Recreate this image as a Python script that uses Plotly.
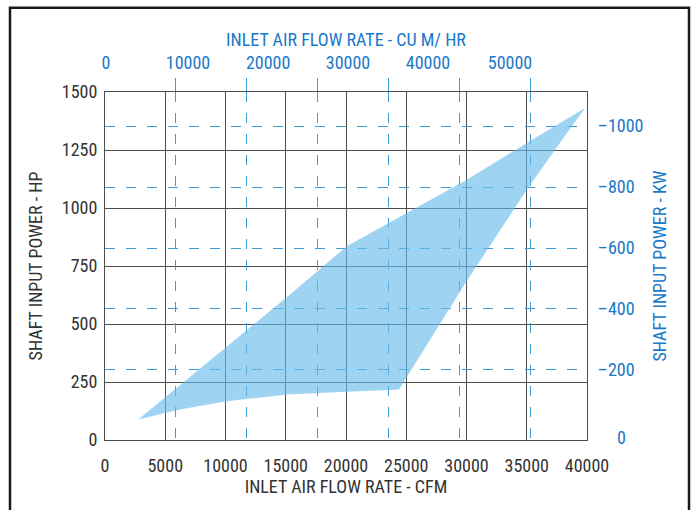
import plotly.graph_objects as go

# ---- data ----
# Operating envelope: CFM vs HP, traced around the outline
upper_cfm = [2760, 10100, 15080, 20060, 25040, 30020, 35000, 39840]
upper_hp = [88, 402, 615, 835, 979, 1122, 1280, 1431]
right_cfm = [38040, 35000, 29740, 24400]
right_hp = [1302, 1079, 663, 218]
lower_cfm = [20060, 15080, 10100, 6224, 2760]
lower_hp = [208, 196, 167, 131, 88]

cfm_ticks = [0, 5000, 10000, 15000, 20000, 25000, 30000, 35000, 40000]
hp_ticks = [0, 250, 500, 750, 1000, 1250, 1500]
cum_grid = [10000, 20000, 30000, 40000, 50000, 60000]
cum_label_pos = [150, 11700, 23000, 34260, 45540, 57100]
cum_labels = ["0", "10000", "20000", "30000", "40000", "50000"]
kw_ticks = [200, 400, 600, 800, 1000]
kw_labels = ["\u2013200", "\u2013400", "\u2013600", "\u2013800", "\u20131000"]

CFM_MAX = 40000
CUM_MAX = CFM_MAX / 0.5886
KW_RANGE = [-30, 1112]

FONT = "Liberation Sans Narrow, Roboto Condensed, Arial Narrow, Liberation Sans, sans-serif"
DARK = "#333333"
BLUE = "#1a78c8"
DASH = "#3d9dd9"
GRID = "#4d4d4d"
FS = 18

xs = upper_cfm + right_cfm + lower_cfm
ys = upper_hp + right_hp + lower_hp

fig = go.Figure()
fig.add_trace(go.Scatter(
    x=xs, y=ys, fill="toself", mode="lines",
    line=dict(width=0), fillcolor="rgba(105,186,234,0.64)",
    hoverinfo="skip", showlegend=False,
))
fig.add_trace(go.Scatter(x=[0], y=[0], xaxis="x2", yaxis="y2", mode="markers",
                         marker=dict(opacity=0), showlegend=False, hoverinfo="skip"))
fig.add_trace(go.Scatter(x=[0], y=[0], xaxis="x3", yaxis="y", mode="markers",
                         marker=dict(opacity=0), showlegend=False, hoverinfo="skip"))

fig.update_layout(
    width=696, height=510,
    margin=dict(l=105, r=109, t=92, b=70, autoexpand=False),
    paper_bgcolor="white", plot_bgcolor="white",
    font=dict(family=FONT, size=FS, color=DARK),
    showlegend=False,
    xaxis=dict(
        range=[0, CFM_MAX], tickvals=cfm_ticks, tickformat="d", automargin=False,
        showgrid=True, gridcolor=GRID, gridwidth=1,
        zeroline=False, showline=True, linecolor=GRID, linewidth=1, mirror=True,
        ticks="outside", ticklen=9, tickcolor="rgba(0,0,0,0)",
        tickfont=dict(size=FS, color=DARK),
        title=dict(text="INLET AIR FLOW RATE - CFM", font=dict(size=FS, color=DARK), standoff=2),
    ),
    yaxis=dict(
        range=[0, 1500], tickvals=hp_ticks, tickformat="d", automargin=False,
        showgrid=True, gridcolor=GRID, gridwidth=1,
        zeroline=False, showline=True, linecolor=GRID, linewidth=1, mirror=True,
        ticks="outside", ticklen=3, tickcolor="rgba(0,0,0,0)",
        tickfont=dict(size=FS, color=DARK),
        title=dict(text="SHAFT INPUT POWER - HP", font=dict(size=FS, color=DARK), standoff=14),
    ),
    xaxis2=dict(
        overlaying="x", side="top", range=[0, CUM_MAX], tickvals=cum_grid, automargin=False,
        showticklabels=False, showgrid=True, gridcolor=DASH, gridwidth=1.2,
        griddash="10px,11px", zeroline=False, ticks="outside", ticklen=13,
        tickcolor=DASH, tickwidth=1.2,
    ),
    xaxis3=dict(
        overlaying="x", side="top", range=[0, CUM_MAX], tickvals=cum_label_pos,
        ticktext=cum_labels, showgrid=False, zeroline=False, automargin=False,
        ticks="outside", ticklen=15, tickcolor="rgba(0,0,0,0)",
        tickfont=dict(size=FS, color=BLUE),
        title=dict(text="INLET AIR FLOW RATE - CU M/ HR", font=dict(size=FS, color=BLUE), standoff=0),
    ),
    yaxis2=dict(
        overlaying="y", side="right", range=KW_RANGE, tickvals=kw_ticks, ticktext=kw_labels,
        automargin=False,
        showgrid=True, gridcolor=DASH, gridwidth=1.2, griddash="10px,11px",
        zeroline=False, ticks="outside", ticklen=6, tickcolor="rgba(0,0,0,0)",
        tickfont=dict(size=FS, color=BLUE),
        title=dict(text="SHAFT INPUT POWER - KW", font=dict(size=FS, color=BLUE), standoff=10),
    ),
)

fig.add_annotation(text="0", xref="paper", yref="paper", x=1.0, y=0.0,
                   xanchor="left", yanchor="middle", xshift=28, yshift=3,
                   showarrow=False, font=dict(size=FS, color=BLUE, family=FONT))

# outer frame
fig.add_shape(type="rect", xref="paper", yref="paper",
              x0=(10 - 105) / 482, x1=(689 - 105) / 482,
              y0=(440.5 - 515) / 348.2, y1=(440.5 - 8) / 348.2,
              line=dict(color="#1a1a1a", width=2.5), fillcolor="rgba(0,0,0,0)", layer="below")

fig.write_html("out.html", config={"displayModeBar": False},
               post_script="document.body.style.margin='0';")
